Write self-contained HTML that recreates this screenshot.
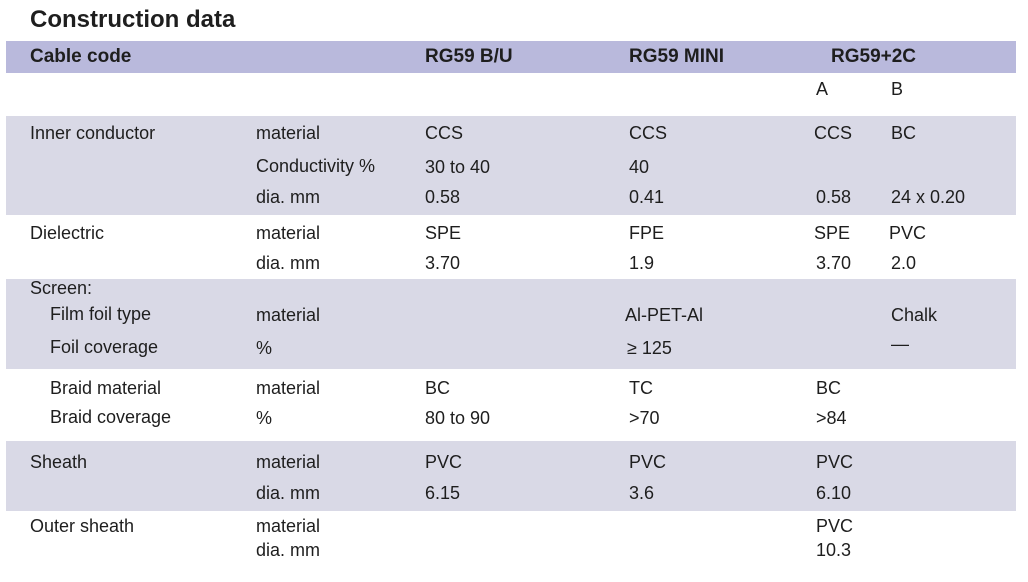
<!DOCTYPE html>
<html><head><style>
body{margin:0;width:1028px;height:582px;background:#fff;position:relative;overflow:hidden;font-family:"Liberation Sans",Arial,sans-serif;color:#1e1e1e}
.b{position:absolute;left:6px;width:1010px}
.t{position:absolute;font-size:18px;line-height:20px;white-space:nowrap}
.h{font-weight:bold;font-size:19px}
</style></head><body>
<div class="b" style="top:41px;height:32px;background:#b9b9dc"></div>
<div class="b" style="top:116px;height:99px;background:#d9d9e6"></div>
<div class="b" style="top:279px;height:90px;background:#d9d9e6"></div>
<div class="b" style="top:441px;height:70px;background:#d9d9e6"></div>
<div class="t h" style="left:30px;top:6px;font-size:24px;line-height:28px">Construction data</div>
<div class="t h" style="left:30px;top:47px">Cable code</div>
<div class="t h" style="left:425px;top:47px">RG59 B/U</div>
<div class="t h" style="left:629px;top:47px">RG59 MINI</div>
<div class="t h" style="left:831px;top:47px">RG59+2C</div>
<div class="t" style="left:816px;top:79px">A</div>
<div class="t" style="left:891px;top:79px">B</div>

<div class="t" style="left:30px;top:123px">Inner conductor</div>
<div class="t" style="left:256px;top:123px">material</div>
<div class="t" style="left:425px;top:123px">CCS</div>
<div class="t" style="left:629px;top:123px">CCS</div>
<div class="t" style="left:814px;top:123px">CCS</div>
<div class="t" style="left:891px;top:123px">BC</div>
<div class="t" style="left:256px;top:156px">Conductivity %</div>
<div class="t" style="left:425px;top:157px">30 to 40</div>
<div class="t" style="left:629px;top:157px">40</div>
<div class="t" style="left:256px;top:187px">dia. mm</div>
<div class="t" style="left:425px;top:187px">0.58</div>
<div class="t" style="left:629px;top:187px">0.41</div>
<div class="t" style="left:816px;top:187px">0.58</div>
<div class="t" style="left:891px;top:187px">24 x 0.20</div>

<div class="t" style="left:30px;top:223px">Dielectric</div>
<div class="t" style="left:256px;top:223px">material</div>
<div class="t" style="left:425px;top:223px">SPE</div>
<div class="t" style="left:629px;top:223px">FPE</div>
<div class="t" style="left:814px;top:223px">SPE</div>
<div class="t" style="left:889px;top:223px">PVC</div>
<div class="t" style="left:256px;top:253px">dia. mm</div>
<div class="t" style="left:425px;top:253px">3.70</div>
<div class="t" style="left:629px;top:253px">1.9</div>
<div class="t" style="left:816px;top:253px">3.70</div>
<div class="t" style="left:891px;top:253px">2.0</div>

<div class="t" style="left:30px;top:278px">Screen:</div>
<div class="t" style="left:50px;top:304px">Film foil type</div>
<div class="t" style="left:256px;top:305px">material</div>
<div class="t" style="left:625px;top:305px">Al-PET-Al</div>
<div class="t" style="left:891px;top:305px">Chalk</div>
<div class="t" style="left:50px;top:337px">Foil coverage</div>
<div class="t" style="left:256px;top:338px">%</div>
<div class="t" style="left:627px;top:338px">≥ 125</div>
<div class="t" style="left:891px;top:334px">—</div>

<div class="t" style="left:50px;top:378px">Braid material</div>
<div class="t" style="left:256px;top:378px">material</div>
<div class="t" style="left:425px;top:378px">BC</div>
<div class="t" style="left:629px;top:378px">TC</div>
<div class="t" style="left:816px;top:378px">BC</div>
<div class="t" style="left:50px;top:407px">Braid coverage</div>
<div class="t" style="left:256px;top:408px">%</div>
<div class="t" style="left:425px;top:408px">80 to 90</div>
<div class="t" style="left:629px;top:408px">&gt;70</div>
<div class="t" style="left:816px;top:408px">&gt;84</div>

<div class="t" style="left:30px;top:452px">Sheath</div>
<div class="t" style="left:256px;top:452px">material</div>
<div class="t" style="left:425px;top:452px">PVC</div>
<div class="t" style="left:629px;top:452px">PVC</div>
<div class="t" style="left:816px;top:452px">PVC</div>
<div class="t" style="left:256px;top:483px">dia. mm</div>
<div class="t" style="left:425px;top:483px">6.15</div>
<div class="t" style="left:629px;top:483px">3.6</div>
<div class="t" style="left:816px;top:483px">6.10</div>

<div class="t" style="left:30px;top:516px">Outer sheath</div>
<div class="t" style="left:256px;top:516px">material</div>
<div class="t" style="left:816px;top:516px">PVC</div>
<div class="t" style="left:256px;top:540px">dia. mm</div>
<div class="t" style="left:816px;top:540px">10.3</div>
</body></html>
